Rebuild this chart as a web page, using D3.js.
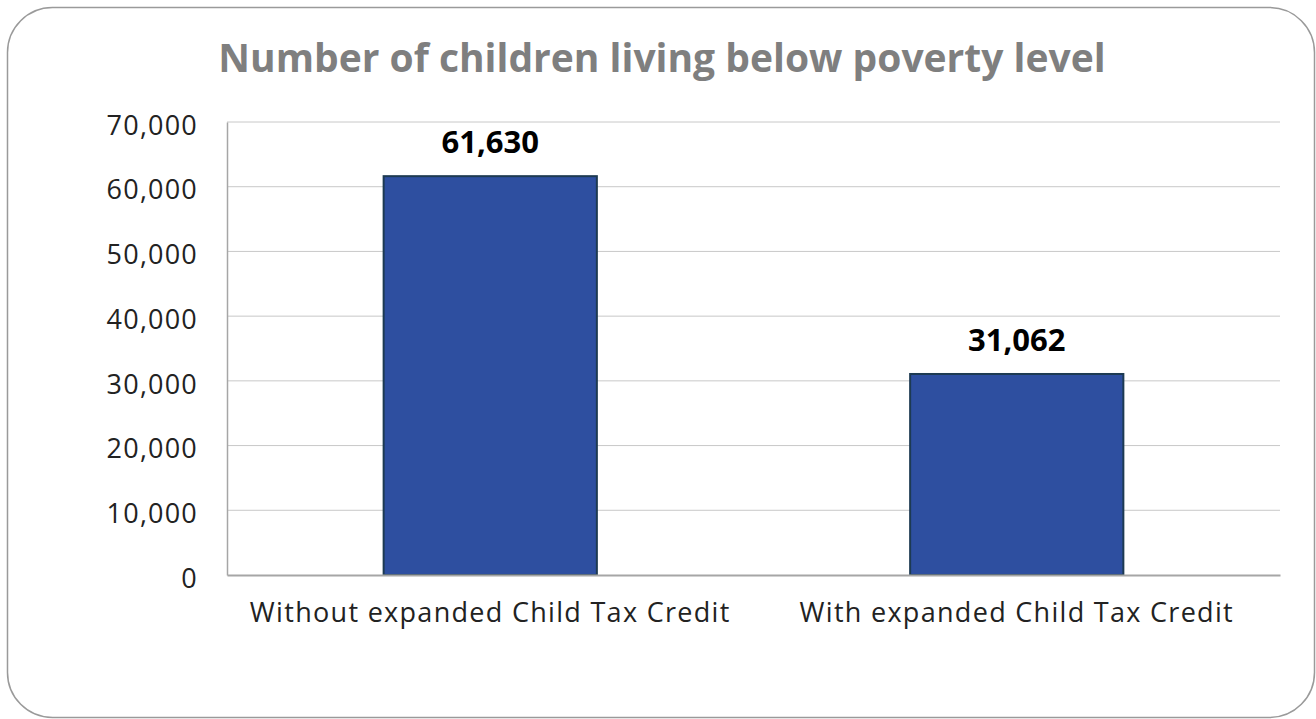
<!DOCTYPE html>
<html>
<head>
<meta charset="utf-8">
<script src="https://cdn.jsdelivr.net/npm/d3@7"></script>
<style>
  html, body { margin: 0; padding: 0; background: #fff; }
  svg { display: block; font-family: "Open Sans", "Lato", sans-serif; }
</style>
</head>
<body>
<svg id="chart" width="1316" height="719"></svg>
<script>
// Chart data
const categories = ["Without expanded Child Tax Credit", "With expanded Child Tax Credit"];
const childrenInPoverty = [61630, 31062];
const yTicks = [0, 10000, 20000, 30000, 40000, 50000, 60000, 70000];
const chartTitle = "Number of children living below poverty level";

const svg = d3.select("#chart");
const W = 1316, H = 719;
const margin = { left: 227, right: 36, top: 122, bottom: 144 };
const plotW = W - margin.left - margin.right;
const plotH = H - margin.top - margin.bottom;

// Rounded frame
svg.append("rect")
  .attr("x", 7.5).attr("y", 7.5)
  .attr("width", 1307).attr("height", 710)
  .attr("rx", 45).attr("ry", 45)
  .attr("fill", "#fff")
  .attr("stroke", "#9a9a9a").attr("stroke-width", 1.5);

// Title
svg.append("text")
  .attr("x", 662).attr("y", 72)
  .attr("text-anchor", "middle")
  .attr("font-size", 39).attr("font-weight", 700)
  .attr("fill", "#7f7f7f")
  .text(chartTitle);

const g = svg.append("g").attr("transform", `translate(${margin.left},${margin.top})`);

const x = d3.scaleBand().domain(categories).range([0, plotW])
  .paddingInner(0.595).paddingOuter(0.2975);
const y = d3.scaleLinear().domain([0, 70000]).range([plotH, 0]);

// Gridlines
g.selectAll("line.grid").data(yTicks.filter(d => d > 0)).enter().append("line")
  .attr("class", "grid")
  .attr("x1", 0).attr("x2", plotW)
  .attr("y1", d => y(d)).attr("y2", d => y(d))
  .attr("stroke", "#c8c8c8").attr("stroke-width", 1);

// Y axis
const yAxis = g.append("g").call(
  d3.axisLeft(y).tickValues(yTicks).tickFormat(d3.format(",")).tickSize(0).tickPadding(29)
);
yAxis.select(".domain").attr("stroke", "#a6a6a6").attr("stroke-width", 1.5);
yAxis.selectAll("text")
  .attr("font-size", 27).attr("fill", "#222").attr("dy", "0.45em")
  .attr("letter-spacing", 1.2)
  .attr("font-family", "\"Open Sans\", sans-serif");

// Bars
g.selectAll("rect.bar").data(categories).enter().append("rect")
  .attr("class", "bar")
  .attr("x", d => x(d))
  .attr("y", (d, i) => y(childrenInPoverty[i]))
  .attr("width", x.bandwidth())
  .attr("height", (d, i) => plotH - y(childrenInPoverty[i]))
  .attr("fill", "#2e4fa0")
  .attr("stroke", "#1d3a52").attr("stroke-width", 2);

// X axis
const xAxis = g.append("g").attr("transform", `translate(0,${plotH})`)
  .call(d3.axisBottom(x).tickSize(0).tickPadding(28));
xAxis.select(".domain").attr("stroke", "#a6a6a6").attr("stroke-width", 2);
xAxis.selectAll("text")
  .attr("font-size", 27).attr("fill", "#222")
  .attr("letter-spacing", 1.3)
  .attr("font-family", "\"Open Sans\", sans-serif");

// Value labels
g.selectAll("text.value").data(categories).enter().append("text")
  .attr("class", "value")
  .attr("x", d => x(d) + x.bandwidth() / 2)
  .attr("y", (d, i) => y(childrenInPoverty[i]) - 23)
  .attr("text-anchor", "middle")
  .attr("font-size", 31).attr("font-weight", 700)
  .attr("fill", "#000")
  .text((d, i) => d3.format(",")(childrenInPoverty[i]));
</script>
</body>
</html>
